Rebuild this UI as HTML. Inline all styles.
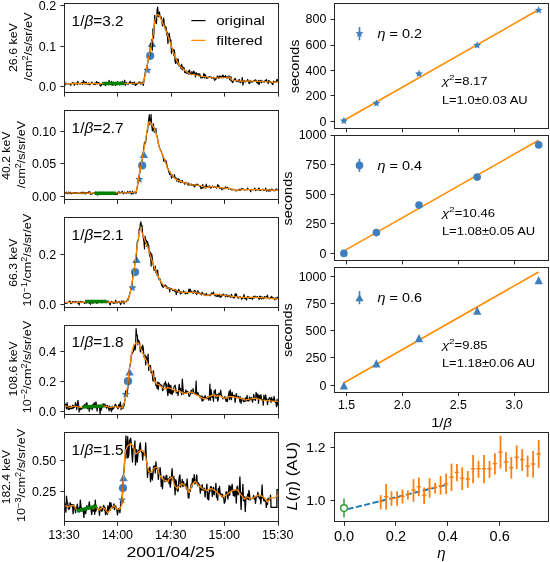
<!DOCTYPE html>
<html><head><meta charset="utf-8"><title>figure</title>
<style>html,body{margin:0;padding:0;background:#fff;width:550px;height:562px;overflow:hidden}
svg text{font-family:"Liberation Sans", sans-serif}</style></head>
<body>
<svg width="550" height="562" viewBox="0 0 550 562" style="display:block" font-family='&quot;Liberation Sans&quot;, sans-serif' fill="#000">
<rect width="550" height="562" fill="#fff"/>
<defs>
<clipPath id="cl0"><rect x="64.4" y="3.3" width="213.8" height="89.3"/></clipPath>
<clipPath id="cl1"><rect x="64.4" y="110.6" width="213.8" height="89.3"/></clipPath>
<clipPath id="cl2"><rect x="64.4" y="217.9" width="213.8" height="89.3"/></clipPath>
<clipPath id="cl3"><rect x="64.4" y="325.2" width="213.8" height="89.3"/></clipPath>
<clipPath id="cl4"><rect x="64.4" y="432.5" width="213.8" height="89.3"/></clipPath>
</defs>
<g clip-path="url(#cl0)">
<polygon points="152,39.9 147.8,47.1 156.2,47.1" fill="#3f7fbd"/>
<circle cx="150.2" cy="55.8" r="4.1" fill="#3f7fbd"/>
<polygon points="147.5,66 148.66,68.7 151.59,68.97 149.38,70.91 150.03,73.78 147.5,72.28 144.97,73.78 145.62,70.91 143.41,68.97 146.34,68.7" fill="#3f7fbd"/>
<polyline points="64.7,84.83 65.3,84.94 65.9,82.89 66.5,83.77 67.1,83.89 67.7,83.82 68.3,83.71 68.9,83.63 69.5,83.93 70.1,83.75 70.7,85.29 71.3,83.72 71.9,83.46 72.5,82.62 73.1,82.88 73.7,83.32 74.3,85.3 74.9,82.99 75.5,83.84 76.1,83.33 76.7,83.1 77.3,84.74 77.9,81.35 78.5,83.43 79.1,83.67 79.7,84.02 80.3,84.16 80.9,83.12 81.5,83.39 82.1,82.61 82.7,84.47 83.3,80.55 83.9,82.66 84.5,81.92 85.1,84.12 85.7,82.58 86.3,82.08 86.9,84.01 87.5,83.62 88.1,84.48 88.7,82.92 89.3,83.7 89.9,84.95 90.5,83.61 91.1,83.48 91.7,82.12 92.3,83.34 92.9,83.72 93.5,83.9 94.1,84.51 94.7,83.06 95.3,84.45 95.9,83.45 96.5,81.65 97.1,84.08 97.7,82.3 98.3,82.73 98.9,82.68 99.5,83.57 100.1,85.5 100.7,86.03 101.3,84.52 101.9,84.94 102.5,82.78 103.1,83.82 103.7,84.03 104.3,83.94 104.9,83.18 105.5,85.64 106.1,84.1 106.7,82.29 107.3,84.31 107.9,83.34 108.5,84.63 109.1,80.39 109.7,84.21 110.3,84.05 110.9,83.08 111.5,81.33 112.1,85.2 112.7,85.05 113.3,82 113.9,84.81 114.5,84.1 115.1,84.32 115.7,85.36 116.3,84.1 116.9,83.63 117.5,81.68 118.1,82.84 118.7,82.63 119.3,84.93 119.9,84.13 120.5,82.2 121.1,82.92 121.7,83.38 122.3,81.44 122.9,84.25 123.5,83.66 124.1,83.03 124.7,80.22 125.3,85.18 125.9,83.63 126.5,82.68 127.1,83.98 127.7,83.72 128.3,84.19 128.9,82.96 129.5,83.41 130.1,81.19 130.7,83.44 131.3,82.78 131.9,83.74 132.5,82.41 133.1,84.67 133.7,82.88 134.3,81.97 134.9,83.93 135.5,85.47 136.1,83.28 136.7,84.64 137.3,83.31 137.9,83.51 138.5,83.42 139.1,81.82 139.7,82.68 140.3,82.34 140.9,84.09 141.5,83.1 142.1,82.77 142.7,81.99 143.3,85.3 143.9,81.37 144.5,77.28 145.1,73.54 145.7,68.96 146.3,68.79 146.9,66.97 147.5,63.99 148.1,60.94 148.7,58.97 149.3,54.72 149.9,55.73 150.5,43.4 151.1,47.68 151.7,39.63 152.3,50.35 152.9,28.92 153.5,38.12 154.1,29.57 154.7,15.42 155.3,17.35 155.9,22.98 156.5,23.53 157.1,10 157.7,7.2 158.3,16.57 158.9,14.45 159.5,12 160.1,17.14 160.7,18.27 161.3,17 161.9,21.9 162.5,26.02 163.1,22 163.7,18.14 164.3,24.97 164.9,25.83 165.5,30.28 166.1,27 166.7,34.9 167.3,32.08 167.9,43.47 168.5,36.67 169.1,33 169.7,36.89 170.3,41.44 170.9,40 171.5,53.58 172.1,48.3 172.7,51.3 173.3,49.28 173.9,55.56 174.5,50 175.1,61.67 175.7,63.44 176.3,58.69 176.9,59.73 177.5,63.93 178.1,58.97 178.7,64.4 179.3,66.31 179.9,65.17 180.5,66.26 181.1,68.74 181.7,64.23 182.3,69.82 182.9,66.96 183.5,69.19 184.1,67.91 184.7,72.53 185.3,72.83 185.9,70.61 186.5,73 187.1,73.38 187.7,72.43 188.3,71.1 188.9,74.5 189.5,69.97 190.1,73.1 190.7,73.81 191.3,74.73 191.9,71.64 192.5,74.21 193.1,74.25 193.7,71.09 194.3,72.18 194.9,73.53 195.5,76.85 196.1,72.58 196.7,74.39 197.3,74.18 197.9,73.82 198.5,73.74 199.1,76.04 199.7,73.92 200.3,75.89 200.9,77.85 201.5,77.42 202.1,78 202.7,77.65 203.3,76.86 203.9,73.28 204.5,77.92 205.1,74.52 205.7,75.5 206.3,78.45 206.9,77.72 207.5,78.05 208.1,77.48 208.7,77.64 209.3,76.63 209.9,76.89 210.5,77.28 211.1,77.2 211.7,78.23 212.3,77.76 212.9,77.43 213.5,77.23 214.1,78.71 214.7,80.38 215.3,79.11 215.9,79.28 216.5,77.3 217.1,77.03 217.7,75.92 218.3,77.75 218.9,78.4 219.5,76.01 220.1,76.4 220.7,76.32 221.3,77.6 221.9,77.41 222.5,75.22 223.1,75.09 223.7,77.72 224.3,76.65 224.9,77.29 225.5,75.63 226.1,77.5 226.7,77.96 227.3,76.56 227.9,78.12 228.5,76.56 229.1,75.9 229.7,79.57 230.3,80.09 230.9,76.64 231.5,81.05 232.1,81.6 232.7,82.59 233.3,81.19 233.9,79.75 234.5,79.52 235.1,78.29 235.7,79.93 236.3,81.39 236.9,80.2 237.5,80.42 238.1,81.78 238.7,80.56 239.3,79.42 239.9,82.17 240.5,82.65 241.1,81.37 241.7,81.13 242.3,77.47 242.9,85.03 243.5,81.79 244.1,80.42 244.7,81 245.3,81.8 245.9,81.66 246.5,81.25 247.1,80.67 247.7,79.5 248.3,81.57 248.9,82.97 249.5,83.66 250.1,80.37 250.7,81.7 251.3,82.17 251.9,81.37 252.5,81.97 253.1,81.39 253.7,81.42 254.3,80.3 254.9,81.05 255.5,79.9 256.1,80.22 256.7,82.73 257.3,82.07 257.9,83.51 258.5,80.39 259.1,84.73 259.7,80.74 260.3,81.81 260.9,80.2 261.5,82.76 262.1,81.16 262.7,81.24 263.3,81.53 263.9,81.98 264.5,82.04 265.1,80.59 265.7,80.7 266.3,79.51 266.9,81.27 267.5,82.21 268.1,83.53 268.7,80.37 269.3,80.97 269.9,82.1 270.5,82.57 271.1,82.09 271.7,82.94 272.3,84.01 272.9,84.68 273.5,81.12 274.1,82.07 274.7,81.79 275.3,81.87 275.9,82.27 276.5,80.56 277.1,79.25 277.7,81.78" fill="none" stroke="#000" stroke-width="1.2" stroke-linejoin="round"/>
<polyline points="64.5,83.8 80,83.4 100,83.7 125,83.5 140,83 143.4,83.2 146,70.5 148.4,59.3 150.8,48.1 153.2,33.7 154.8,20.8 156.4,15.2 158,14.4 159.6,16 162,21.6 165.2,28.8 168,36 170.4,43.3 173.6,52.9 176.9,60.9 180.1,66.5 184.9,70.5 190,74 200,76 210,77.5 220,78 226,77.5 229,77 232,80 240,81 250,81 260,81.5 270,82 278.2,82" fill="none" stroke="#ff8c00" stroke-width="1.25" stroke-linejoin="round"/>
<line x1="102.7" y1="83.6" x2="124.5" y2="83.6" stroke="#008000" stroke-width="3.5"/>
</g>
<rect x="64.5" y="3.5" width="214" height="89" fill="none" stroke="#262626" stroke-width="1"/>
<line x1="60.4" y1="5.5" x2="64.4" y2="5.5" stroke="#262626" stroke-width="1"/>
<line x1="60.4" y1="46.5" x2="64.4" y2="46.5" stroke="#262626" stroke-width="1"/>
<line x1="60.4" y1="86.5" x2="64.4" y2="86.5" stroke="#262626" stroke-width="1"/>
<line x1="64.5" y1="92.6" x2="64.5" y2="96.6" stroke="#262626" stroke-width="1"/>
<line x1="117.5" y1="92.6" x2="117.5" y2="96.6" stroke="#262626" stroke-width="1"/>
<line x1="171.5" y1="92.6" x2="171.5" y2="96.6" stroke="#262626" stroke-width="1"/>
<line x1="224.5" y1="92.6" x2="224.5" y2="96.6" stroke="#262626" stroke-width="1"/>
<line x1="278.5" y1="92.6" x2="278.5" y2="96.6" stroke="#262626" stroke-width="1"/>
<g clip-path="url(#cl1)">
<polygon points="143.9,150.7 139.7,157.9 148.1,157.9" fill="#3f7fbd"/>
<circle cx="142.2" cy="165.5" r="4.1" fill="#3f7fbd"/>
<polygon points="139.3,175.1 140.46,177.8 143.39,178.07 141.18,180.01 141.83,182.88 139.3,181.38 136.77,182.88 137.42,180.01 135.21,178.07 138.14,177.8" fill="#3f7fbd"/>
<polyline points="64.7,193.2 65.3,192.64 65.9,193.4 66.5,192.01 67.1,193.83 67.7,193.21 68.3,193.39 68.9,192 69.5,193.64 70.1,192.79 70.7,192.21 71.3,194.01 71.9,193.3 72.5,192.84 73.1,193.22 73.7,193.38 74.3,192.37 74.9,193.02 75.5,192.51 76.1,193.43 76.7,192.66 77.3,192.81 77.9,193.64 78.5,192.95 79.1,193.11 79.7,193.56 80.3,193.36 80.9,192.35 81.5,192.61 82.1,193.85 82.7,192.43 83.3,192.05 83.9,193.7 84.5,192.62 85.1,192.84 85.7,194.1 86.3,192.41 86.9,193.14 87.5,192.66 88.1,193.22 88.7,191.7 89.3,191.68 89.9,191.88 90.5,194.31 91.1,193.47 91.7,194.29 92.3,193.69 92.9,193.28 93.5,193.26 94.1,192.46 94.7,193.13 95.3,193.15 95.9,192.15 96.5,194.61 97.1,192.9 97.7,195.2 98.3,193.69 98.9,192.48 99.5,194.3 100.1,192.72 100.7,192.17 101.3,193 101.9,193.46 102.5,192.75 103.1,192.61 103.7,192.39 104.3,193.08 104.9,193.38 105.5,193.22 106.1,193.31 106.7,192.68 107.3,193.21 107.9,193.33 108.5,192.24 109.1,193.93 109.7,193.04 110.3,192.38 110.9,194.34 111.5,192.51 112.1,192.91 112.7,193.27 113.3,192.48 113.9,193.67 114.5,192.7 115.1,192.9 115.7,194.05 116.3,194.4 116.9,192.91 117.5,194.24 118.1,192.23 118.7,191.77 119.3,192.04 119.9,193.06 120.5,192.75 121.1,192.32 121.7,192.56 122.3,191.25 122.9,192.93 123.5,193.87 124.1,192.95 124.7,192.16 125.3,192.67 125.9,192.57 126.5,193.31 127.1,193.04 127.7,191.35 128.3,192.64 128.9,193.19 129.5,191.97 130.1,191.35 130.7,192.9 131.3,194.27 131.9,192.76 132.5,191.16 133.1,193.81 133.7,192.64 134.3,192.63 134.9,191.87 135.5,192.99 136.1,193.24 136.7,189.67 137.3,186.79 137.9,183.82 138.5,181.01 139.1,174.59 139.7,173.98 140.3,168.87 140.9,163.77 141.5,162.54 142.1,160.01 142.7,156.31 143.3,151.6 143.9,147.23 144.5,142.17 145.1,144.01 145.7,142.52 146.3,137 146.9,130.8 147.5,131.84 148.1,126.01 148.7,119.15 149.3,114.58 149.9,125.01 150.5,120.98 151.1,114.3 151.7,124.35 152.3,131 152.9,129.35 153.5,123.78 154.1,132.04 154.7,132.32 155.3,132.29 155.9,128.23 156.5,135.59 157.1,135.69 157.7,138.66 158.3,144.11 158.9,145.31 159.5,147.93 160.1,148.98 160.7,150.38 161.3,151.22 161.9,153.81 162.5,154.65 163.1,156.59 163.7,161.37 164.3,161 164.9,159.56 165.5,161.65 166.1,160.89 166.7,163.51 167.3,167.2 167.9,168.35 168.5,170.49 169.1,172.8 169.7,174.51 170.3,172.04 170.9,174.44 171.5,178.09 172.1,174.82 172.7,176.25 173.3,177.42 173.9,177.37 174.5,174.45 175.1,178.84 175.7,177.61 176.3,178.31 176.9,181.44 177.5,179.46 178.1,178.45 178.7,182.14 179.3,179.41 179.9,180.84 180.5,182.56 181.1,181.17 181.7,182.15 182.3,180.24 182.9,182.52 183.5,182.62 184.1,182.84 184.7,184.38 185.3,182.22 185.9,182.67 186.5,183.27 187.1,183.37 187.7,184.92 188.3,182.9 188.9,185.31 189.5,184.02 190.1,185 190.7,184.18 191.3,184.06 191.9,185.47 192.5,185.08 193.1,184.47 193.7,184.69 194.3,187 194.9,184.84 195.5,186.05 196.1,184.81 196.7,184.41 197.3,183.98 197.9,184.97 198.5,185.14 199.1,185.76 199.7,186.15 200.3,185.58 200.9,188.59 201.5,187.66 202.1,188.5 202.7,184.42 203.3,186.69 203.9,188.11 204.5,187.03 205.1,186.02 205.7,188.05 206.3,184 206.9,186.85 207.5,187.15 208.1,186.72 208.7,187.21 209.3,185.66 209.9,187.52 210.5,187.96 211.1,188.08 211.7,186.95 212.3,185.92 212.9,186.43 213.5,187.34 214.1,186.85 214.7,186.87 215.3,186.89 215.9,187.43 216.5,188.06 217.1,187.2 217.7,184.46 218.3,187.24 218.9,185.67 219.5,188.44 220.1,188.2 220.7,188.08 221.3,187.65 221.9,189.88 222.5,188.76 223.1,188.72 223.7,188.75 224.3,188.21 224.9,188.74 225.5,186.67 226.1,188.02 226.7,187.92 227.3,187.29 227.9,188.03 228.5,189.16 229.1,188.17 229.7,188.73 230.3,188.64 230.9,189.33 231.5,189.28 232.1,190.19 232.7,189.23 233.3,189.13 233.9,189.77 234.5,190.07 235.1,189.93 235.7,190.82 236.3,190 236.9,190.87 237.5,190.05 238.1,190.28 238.7,189.97 239.3,189.19 239.9,190.64 240.5,190.31 241.1,188.75 241.7,189.34 242.3,188.7 242.9,188.73 243.5,189.14 244.1,190 244.7,189.49 245.3,189.99 245.9,189.65 246.5,189.22 247.1,190.03 247.7,187.95 248.3,189.47 248.9,189.51 249.5,189.59 250.1,190.05 250.7,191.8 251.3,189.27 251.9,189.19 252.5,189.66 253.1,189.9 253.7,189.67 254.3,189.05 254.9,188.01 255.5,190.64 256.1,189.54 256.7,190.08 257.3,189.93 257.9,190.01 258.5,188.12 259.1,188.21 259.7,190.45 260.3,190.58 260.9,189.69 261.5,189.83 262.1,189.5 262.7,189.1 263.3,190.01 263.9,190.6 264.5,190.04 265.1,189.58 265.7,187.99 266.3,191.27 266.9,189.72 267.5,190.35 268.1,191.1 268.7,190.49 269.3,189.34 269.9,191.46 270.5,190.03 271.1,190.28 271.7,189.05 272.3,189.51 272.9,190.42 273.5,189.97 274.1,190.93 274.7,190.24 275.3,190.68 275.9,189.1 276.5,189.04 277.1,189.36 277.7,190.8" fill="none" stroke="#000" stroke-width="1.1" stroke-linejoin="round"/>
<polyline points="64.5,193 90,193.2 116,193 130,192.5 135.1,192.2 136.4,191.7 138.8,177.3 141.2,164.5 143.6,151.7 146,137.2 147.6,127.6 149.2,121.5 150.8,122.8 154,127.6 156.4,134 159.6,148.5 163.8,157.4 167.2,167.5 172.3,176 177.3,180.2 184.1,182.7 190,184.5 200,185.5 207,187.8 210,186.4 220,187.6 230,188.7 236,190.4 245,189.5 260,189.6 278.2,190.4" fill="none" stroke="#ff8c00" stroke-width="1.25" stroke-linejoin="round"/>
<line x1="94.6" y1="193.3" x2="116" y2="193.3" stroke="#008000" stroke-width="3.5"/>
</g>
<rect x="64.5" y="110.5" width="214" height="89" fill="none" stroke="#262626" stroke-width="1"/>
<line x1="60.4" y1="131.5" x2="64.4" y2="131.5" stroke="#262626" stroke-width="1"/>
<line x1="60.4" y1="163.5" x2="64.4" y2="163.5" stroke="#262626" stroke-width="1"/>
<line x1="60.4" y1="196.5" x2="64.4" y2="196.5" stroke="#262626" stroke-width="1"/>
<line x1="64.5" y1="199.9" x2="64.5" y2="203.9" stroke="#262626" stroke-width="1"/>
<line x1="117.5" y1="199.9" x2="117.5" y2="203.9" stroke="#262626" stroke-width="1"/>
<line x1="171.5" y1="199.9" x2="171.5" y2="203.9" stroke="#262626" stroke-width="1"/>
<line x1="224.5" y1="199.9" x2="224.5" y2="203.9" stroke="#262626" stroke-width="1"/>
<line x1="278.5" y1="199.9" x2="278.5" y2="203.9" stroke="#262626" stroke-width="1"/>
<g clip-path="url(#cl2)">
<polygon points="136.5,255.7 132.3,262.9 140.7,262.9" fill="#3f7fbd"/>
<circle cx="135.1" cy="272.1" r="4.1" fill="#3f7fbd"/>
<polygon points="132.5,283.5 133.66,286.2 136.59,286.47 134.38,288.41 135.03,291.28 132.5,289.78 129.97,291.28 130.62,288.41 128.41,286.47 131.34,286.2" fill="#3f7fbd"/>
<polyline points="64.7,302.56 65.3,303.3 65.9,303.5 66.5,302.29 67.1,303.18 67.7,302.42 68.3,302.19 68.9,302.13 69.5,301.34 70.1,301 70.7,303.66 71.3,302.62 71.9,303.1 72.5,301.63 73.1,302.55 73.7,301.65 74.3,302.6 74.9,302.5 75.5,301.45 76.1,302.63 76.7,301.81 77.3,302.65 77.9,303.05 78.5,301.67 79.1,305.05 79.7,302.15 80.3,301.26 80.9,301.75 81.5,302.73 82.1,301.92 82.7,301.83 83.3,302.33 83.9,302.26 84.5,303.45 85.1,302.57 85.7,300.82 86.3,303.19 86.9,301.99 87.5,301.41 88.1,300.39 88.7,302.92 89.3,303.08 89.9,301.08 90.5,304.3 91.1,301.98 91.7,301.6 92.3,303.15 92.9,301.95 93.5,302.84 94.1,302.67 94.7,301.44 95.3,301.01 95.9,302.67 96.5,302.13 97.1,303.48 97.7,301.8 98.3,302.11 98.9,301.74 99.5,301.89 100.1,301.71 100.7,301.96 101.3,302.61 101.9,302.75 102.5,302.53 103.1,302.21 103.7,301.39 104.3,300.31 104.9,302.15 105.5,300.84 106.1,301.41 106.7,302.79 107.3,302.47 107.9,300.73 108.5,301.85 109.1,302.89 109.7,304.32 110.3,304.8 110.9,301.91 111.5,301.46 112.1,301.94 112.7,302.8 113.3,302.36 113.9,303.37 114.5,302.4 115.1,303.12 115.7,300.02 116.3,301.7 116.9,302.92 117.5,302.84 118.1,301.66 118.7,302.48 119.3,301.43 119.9,302.26 120.5,304.61 121.1,303.43 121.7,300.85 122.3,301.91 122.9,302.8 123.5,301 124.1,303.85 124.7,302.17 125.3,301.62 125.9,301.27 126.5,301.78 127.1,300.58 127.7,298.91 128.3,299.89 128.9,297 129.5,294.99 130.1,292.63 130.7,290.06 131.3,285.91 131.9,284.67 132.5,280.22 133.1,273.06 133.7,271.16 134.3,271.05 134.9,261.59 135.5,262.21 136.1,257.58 136.7,250.86 137.3,241.37 137.9,240.4 138.5,240.08 139.1,229.42 139.7,229.69 140.3,224 140.9,221.8 141.5,226 142.1,225.63 142.7,235 143.3,237.34 143.9,241.88 144.5,249.01 145.1,236 145.7,243.36 146.3,240 146.9,246.54 147.5,241.25 148.1,244.65 148.7,245 149.3,253.52 149.9,256.59 150.5,252 151.1,266.1 151.7,253.86 152.3,258 152.9,263.57 153.5,265.81 154.1,270.41 154.7,269.69 155.3,266 155.9,272.76 156.5,270.76 157.1,275.36 157.7,270 158.3,277.23 158.9,279 159.5,280.01 160.1,278.91 160.7,281.74 161.3,283.94 161.9,286 162.5,284.65 163.1,287.64 163.7,286.52 164.3,286.28 164.9,285 165.5,285.51 166.1,285.72 166.7,288.11 167.3,286.9 167.9,288.46 168.5,288.57 169.1,287.57 169.7,291.91 170.3,288.5 170.9,289.33 171.5,288.54 172.1,289.34 172.7,290.55 173.3,290.17 173.9,289.74 174.5,291.3 175.1,289.21 175.7,291.11 176.3,294.79 176.9,290.06 177.5,292.01 178.1,292.14 178.7,289.37 179.3,290.64 179.9,291.85 180.5,294 181.1,291.62 181.7,293.19 182.3,292.51 182.9,292.73 183.5,290.76 184.1,291.99 184.7,292.58 185.3,293.91 185.9,291.92 186.5,293.23 187.1,292.61 187.7,293.64 188.3,291.91 188.9,289.14 189.5,291.96 190.1,289.05 190.7,291.22 191.3,291.19 191.9,292.48 192.5,292.17 193.1,293.39 193.7,292.09 194.3,290.5 194.9,290.27 195.5,293.29 196.1,291.77 196.7,294.6 197.3,293.02 197.9,290.68 198.5,293.14 199.1,292.8 199.7,292.76 200.3,294.18 200.9,293.59 201.5,294.95 202.1,292.07 202.7,293.53 203.3,294.12 203.9,294.64 204.5,293.99 205.1,295.66 205.7,294.4 206.3,293.44 206.9,295.65 207.5,295.08 208.1,295.38 208.7,295.02 209.3,295.14 209.9,295.76 210.5,295.32 211.1,293.58 211.7,292.93 212.3,293.36 212.9,294.44 213.5,291.94 214.1,294.68 214.7,294.99 215.3,295.94 215.9,295.81 216.5,296 217.1,296.63 217.7,294.41 218.3,296.2 218.9,296.11 219.5,294.11 220.1,297.44 220.7,296 221.3,296.78 221.9,294.86 222.5,295.52 223.1,293.94 223.7,295.29 224.3,294.82 224.9,295.55 225.5,296.81 226.1,294.73 226.7,294.91 227.3,296.84 227.9,295.23 228.5,296.6 229.1,295.37 229.7,296.58 230.3,296.8 230.9,297.51 231.5,294.38 232.1,295.69 232.7,296.62 233.3,298.01 233.9,297.24 234.5,297.86 235.1,293.82 235.7,295.9 236.3,293.92 236.9,296.01 237.5,296.92 238.1,298.37 238.7,297.81 239.3,296.83 239.9,297.54 240.5,296.78 241.1,297.73 241.7,299.37 242.3,297.5 242.9,298.37 243.5,296.12 244.1,294.53 244.7,298.78 245.3,297.69 245.9,298.93 246.5,299.91 247.1,297.86 247.7,296.27 248.3,297.84 248.9,296.74 249.5,298.53 250.1,298.33 250.7,297.61 251.3,298.35 251.9,298.05 252.5,299.37 253.1,296.72 253.7,296.5 254.3,298.2 254.9,295.94 255.5,297.48 256.1,296.93 256.7,297.44 257.3,296.61 257.9,297.2 258.5,297.98 259.1,299.47 259.7,296.15 260.3,298.52 260.9,296.26 261.5,299.01 262.1,298.05 262.7,296.96 263.3,298.87 263.9,298.32 264.5,296.53 265.1,298.06 265.7,297.24 266.3,296.62 266.9,296.52 267.5,295.13 268.1,298.58 268.7,298.12 269.3,298.42 269.9,298.93 270.5,297.18 271.1,298.24 271.7,296.38 272.3,298.72 272.9,297.86 273.5,297.77 274.1,298.4 274.7,299.99 275.3,297.97 275.9,298.29 276.5,299.12 277.1,297.12 277.7,298.35" fill="none" stroke="#000" stroke-width="1.15" stroke-linejoin="round"/>
<polyline points="64.5,302.5 85,302.1 107,302 125,302 127.6,300.6 130,293.5 131.6,285.5 133.2,275.9 134.8,264.7 136.4,251.9 138,240.6 139.6,230.6 140.8,229 142,232.6 144.4,239 147.6,247 150.8,256.7 153.7,265.7 157.1,274.2 160.5,280.9 163.9,286 168.9,288.5 175.7,290.2 180,292.2 185,292.5 195,292.4 207,295.5 215,294.2 225,295.5 240,297.3 250,297.3 265,297.8 278.2,299.1" fill="none" stroke="#ff8c00" stroke-width="1.25" stroke-linejoin="round"/>
<line x1="85.5" y1="301.4" x2="106.5" y2="301.4" stroke="#008000" stroke-width="3.5"/>
</g>
<rect x="64.5" y="217.5" width="214" height="90" fill="none" stroke="#262626" stroke-width="1"/>
<line x1="60.4" y1="254.5" x2="64.4" y2="254.5" stroke="#262626" stroke-width="1"/>
<line x1="60.4" y1="304.5" x2="64.4" y2="304.5" stroke="#262626" stroke-width="1"/>
<line x1="64.5" y1="307.2" x2="64.5" y2="311.2" stroke="#262626" stroke-width="1"/>
<line x1="117.5" y1="307.2" x2="117.5" y2="311.2" stroke="#262626" stroke-width="1"/>
<line x1="171.5" y1="307.2" x2="171.5" y2="311.2" stroke="#262626" stroke-width="1"/>
<line x1="224.5" y1="307.2" x2="224.5" y2="311.2" stroke="#262626" stroke-width="1"/>
<line x1="278.5" y1="307.2" x2="278.5" y2="311.2" stroke="#262626" stroke-width="1"/>
<g clip-path="url(#cl3)">
<polygon points="129.6,368.4 125.4,375.6 133.8,375.6" fill="#3f7fbd"/>
<circle cx="128" cy="381.2" r="4.1" fill="#3f7fbd"/>
<polygon points="125.8,390 126.96,392.7 129.89,392.97 127.68,394.91 128.33,397.78 125.8,396.28 123.27,397.78 123.92,394.91 121.71,392.97 124.64,392.7" fill="#3f7fbd"/>
<polyline points="64.7,405.63 65.3,404.08 65.9,404.96 66.5,408.8 67.1,402.59 67.7,407.21 68.3,409.6 68.9,406.29 69.5,409.47 70.1,406.11 70.7,408.57 71.3,407.82 71.9,408.8 72.5,405.04 73.1,408.29 73.7,405.57 74.3,407.5 74.9,406.75 75.5,402.49 76.1,404.69 76.7,409.53 77.3,405.63 77.9,400.38 78.5,403.51 79.1,412.04 79.7,406.98 80.3,409.47 80.9,409.7 81.5,408.28 82.1,408.63 82.7,406.74 83.3,406.36 83.9,406.46 84.5,404.48 85.1,405.32 85.7,406.99 86.3,402.98 86.9,402.68 87.5,408.75 88.1,406.79 88.7,407.09 89.3,411.39 89.9,407.75 90.5,408.18 91.1,407.44 91.7,408.37 92.3,409.79 92.9,404.25 93.5,406.36 94.1,402.92 94.7,403.75 95.3,407.7 95.9,401.74 96.5,404.76 97.1,411.24 97.7,406.27 98.3,407.3 98.9,405.31 99.5,406.56 100.1,414.32 100.7,406.67 101.3,410.16 101.9,407.36 102.5,406.8 103.1,403.57 103.7,405.77 104.3,406.99 104.9,403.86 105.5,406.79 106.1,405.72 106.7,408.27 107.3,405.27 107.9,407.21 108.5,407.11 109.1,410.83 109.7,406.07 110.3,408.34 110.9,409.81 111.5,411.64 112.1,405.99 112.7,409.52 113.3,408.19 113.9,408.08 114.5,406.6 115.1,404.36 115.7,404.37 116.3,406.08 116.9,406.92 117.5,408 118.1,408.79 118.7,404.72 119.3,407.48 119.9,403.98 120.5,402.19 121.1,409.59 121.7,407.76 122.3,406.21 122.9,408.67 123.5,403.65 124.1,405.9 124.7,400.85 125.3,398.9 125.9,390.8 126.5,391.59 127.1,392.67 127.7,389.51 128.3,381.02 128.9,374.36 129.5,367.55 130.1,365.55 130.7,362.29 131.3,355.22 131.9,354.13 132.5,352.96 133.1,352.04 133.7,350.44 134.3,344.67 134.9,350 135.5,348.62 136.1,328.5 136.7,335.23 137.3,335.05 137.9,344.6 138.5,340 139.1,341.87 139.7,343.07 140.3,352 140.9,349.45 141.5,346.94 142.1,350.17 142.7,345 143.3,348.03 143.9,356.44 144.5,357.71 145.1,355.12 145.7,365 146.3,356.64 146.9,362.28 147.5,360.87 148.1,354 148.7,370.5 149.3,365.36 149.9,366.9 150.5,365.54 151.1,372.68 151.7,370.81 152.3,374.17 152.9,381 153.5,370.93 154.1,380.66 154.7,381.8 155.3,377.8 155.9,385.72 156.5,384.46 157.1,388.3 157.7,382.17 158.3,389.71 158.9,382.59 159.5,383.77 160.1,384.18 160.7,385.35 161.3,385.28 161.9,385.22 162.5,390.61 163.1,390.07 163.7,386.67 164.3,383.58 164.9,383.79 165.5,381.51 166.1,387.59 166.7,384.16 167.3,391.68 167.9,395.55 168.5,382.89 169.1,392.61 169.7,384.78 170.3,393.76 170.9,385.65 171.5,393.02 172.1,394.7 172.7,390.65 173.3,392.48 173.9,386.83 174.5,386.51 175.1,385.09 175.7,388.02 176.3,392.88 176.9,392.48 177.5,391.83 178.1,395.61 178.7,388.27 179.3,384.37 179.9,391.05 180.5,388.6 181.1,391.83 181.7,394.79 182.3,379 182.9,386.85 183.5,394.07 184.1,393.61 184.7,392.83 185.3,392.21 185.9,389.91 186.5,393.19 187.1,391.27 187.7,391.52 188.3,392.23 188.9,396.06 189.5,396.31 190.1,394.6 190.7,393.19 191.3,390.2 191.9,393.13 192.5,393.21 193.1,388.7 193.7,392.1 194.3,393.92 194.9,393.09 195.5,394.29 196.1,381 196.7,394.81 197.3,394.9 197.9,392.3 198.5,394.62 199.1,395.16 199.7,396.31 200.3,397.84 200.9,395.6 201.5,396.85 202.1,401.14 202.7,396.45 203.3,400.38 203.9,397.85 204.5,397.62 205.1,395.6 205.7,398.49 206.3,397.31 206.9,398.85 207.5,397.08 208.1,396.89 208.7,400.21 209.3,398.41 209.9,384 210.5,400.12 211.1,389.56 211.7,394.95 212.3,397.34 212.9,395.2 213.5,401.28 214.1,390.91 214.7,392.99 215.3,389.66 215.9,398.21 216.5,395.95 217.1,394.3 217.7,401.1 218.3,399.29 218.9,393.18 219.5,395.24 220.1,395.05 220.7,390.07 221.3,395.06 221.9,395.77 222.5,397.99 223.1,398.8 223.7,397.87 224.3,397.32 224.9,396.56 225.5,399.24 226.1,401.32 226.7,398.97 227.3,401.55 227.9,398.38 228.5,394.73 229.1,391.46 229.7,399.66 230.3,389.93 230.9,396.57 231.5,399.75 232.1,392.12 232.7,395.91 233.3,395.75 233.9,395.37 234.5,395.31 235.1,402.36 235.7,397.57 236.3,393.51 236.9,396.12 237.5,397.73 238.1,397.81 238.7,396.33 239.3,397.27 239.9,401.83 240.5,396.84 241.1,403.54 241.7,399.2 242.3,400.03 242.9,398.35 243.5,401.44 244.1,401.72 244.7,401.05 245.3,397.87 245.9,401.27 246.5,398.36 247.1,395.34 247.7,400.86 248.3,399.62 248.9,401.14 249.5,396.96 250.1,398.63 250.7,399.84 251.3,397.48 251.9,398.75 252.5,402.06 253.1,399.6 253.7,394.45 254.3,397.25 254.9,399.74 255.5,400.41 256.1,392.26 256.7,395.71 257.3,398.12 257.9,393.79 258.5,403.31 259.1,395.59 259.7,395.82 260.3,399.73 260.9,394.62 261.5,398.89 262.1,399.93 262.7,399.53 263.3,405.27 263.9,394.99 264.5,398.31 265.1,399.6 265.7,394.87 266.3,400.33 266.9,399.13 267.5,404.65 268.1,400.07 268.7,399.62 269.3,397.81 269.9,397.58 270.5,400.24 271.1,402.47 271.7,397.42 272.3,400.58 272.9,399.88 273.5,400.95 274.1,396.39 274.7,399.82 275.3,402.46 275.9,402.47 276.5,406.7 277.1,399.22 277.7,405.8" fill="none" stroke="#000" stroke-width="1.2" stroke-linejoin="round"/>
<polyline points="64.5,405.5 70,407.5 75,406 80,407.5 85,406.5 90,407.5 95,406 100,407 105,406 110,407.5 115,406.5 118.4,407.1 122,408 124.6,402.1 126.2,394.1 127.6,386.1 128.6,374.9 130.2,363.7 131.8,352.4 133.4,346 135.8,342.8 138.2,342.8 139.8,345.2 142.2,352.4 145.4,358.9 148.8,365.7 150,368.5 152.2,371.6 154.4,380.4 156.5,384 158.7,384.7 161.6,386.9 164.5,389.1 167.5,387.6 170.4,388.4 173.3,389.1 175.5,392 179.1,390.5 182,392.7 184.9,393.5 187.8,392.7 192.2,392 195.1,394.2 198,395.6 200.9,397.1 204.5,399.3 207.5,397.5 211.1,395.6 214,394.9 216.9,396.4 219.8,395.6 224.2,398.5 227.1,397.1 230,396.4 240,398.2 245,400 255,398.2 262,400 270,400.9 278.2,401.5" fill="none" stroke="#ff8c00" stroke-width="1.25" stroke-linejoin="round"/>
<line x1="82.5" y1="407.1" x2="103.6" y2="406.1" stroke="#008000" stroke-width="3.5"/>
</g>
<rect x="64.5" y="325.5" width="214" height="89" fill="none" stroke="#262626" stroke-width="1"/>
<line x1="60.4" y1="351.5" x2="64.4" y2="351.5" stroke="#262626" stroke-width="1"/>
<line x1="60.4" y1="381.5" x2="64.4" y2="381.5" stroke="#262626" stroke-width="1"/>
<line x1="60.4" y1="411.5" x2="64.4" y2="411.5" stroke="#262626" stroke-width="1"/>
<line x1="64.5" y1="414.5" x2="64.5" y2="418.5" stroke="#262626" stroke-width="1"/>
<line x1="117.5" y1="414.5" x2="117.5" y2="418.5" stroke="#262626" stroke-width="1"/>
<line x1="171.5" y1="414.5" x2="171.5" y2="418.5" stroke="#262626" stroke-width="1"/>
<line x1="224.5" y1="414.5" x2="224.5" y2="418.5" stroke="#262626" stroke-width="1"/>
<line x1="278.5" y1="414.5" x2="278.5" y2="418.5" stroke="#262626" stroke-width="1"/>
<g clip-path="url(#cl4)">
<polygon points="123.6,474 119.4,481.2 127.8,481.2" fill="#3f7fbd"/>
<circle cx="123" cy="488" r="4.1" fill="#3f7fbd"/>
<polygon points="122,495.7 123.16,498.4 126.09,498.67 123.88,500.61 124.53,503.48 122,501.98 119.47,503.48 120.12,500.61 117.91,498.67 120.84,498.4" fill="#3f7fbd"/>
<polyline points="64.7,503.86 65.3,504.15 65.9,512.22 66.5,496.23 67.1,502.39 67.7,503.04 68.3,508.13 68.9,509.38 69.5,508.21 70.1,502.67 70.7,506.69 71.3,504.44 71.9,505.14 72.5,504.66 73.1,513.83 73.7,504.92 74.3,505.99 74.9,508.49 75.5,512.58 76.1,507.7 76.7,508.54 77.3,504.18 77.9,508.68 78.5,511.02 79.1,507.91 79.7,511.78 80.3,500.16 80.9,506.75 81.5,508.38 82.1,510.14 82.7,510.76 83.3,510.24 83.9,517.35 84.5,509.2 85.1,508.94 85.7,513.61 86.3,508.56 86.9,505.76 87.5,508.85 88.1,507.72 88.7,506.69 89.3,501.8 89.9,506.5 90.5,508.22 91.1,509.89 91.7,514.52 92.3,509.24 92.9,507.9 93.5,511.12 94.1,504.99 94.7,514.31 95.3,500.04 95.9,511.02 96.5,507.57 97.1,507.71 97.7,508.92 98.3,509.27 98.9,510.08 99.5,515.28 100.1,506.67 100.7,509.74 101.3,510.44 101.9,511.3 102.5,508.41 103.1,507.52 103.7,505.33 104.3,510.1 104.9,507.26 105.5,514.62 106.1,510.26 106.7,510.41 107.3,514.39 107.9,505.84 108.5,511.18 109.1,510.49 109.7,502.55 110.3,510.06 110.9,502.86 111.5,506.18 112.1,506.8 112.7,507.79 113.3,506.92 113.9,503.83 114.5,509.54 115.1,506.38 115.7,505.94 116.3,507.9 116.9,510.09 117.5,514.97 118.1,510.35 118.7,508.43 119.3,509.61 119.9,512.59 120.5,506.51 121.1,501.7 121.7,504.14 122.3,495.79 122.9,487.31 123.5,473.64 124.1,470.45 124.7,460.83 125.3,455.57 125.9,436 126.5,449.05 127.1,458 127.7,436.61 128.3,457.32 128.9,454.08 129.5,440 130.1,441.88 130.7,438.15 131.3,443.47 131.9,453.82 132.5,462 133.1,448.41 133.7,448.08 134.3,449.8 134.9,441 135.5,464.9 136.1,456.14 136.7,449.65 137.3,462 137.9,454.66 138.5,450.66 139.1,452.3 139.7,445.35 140.3,443 140.9,451.12 141.5,451.99 142.1,452.67 142.7,460 143.3,452.04 143.9,453.52 144.5,454.58 145.1,455.5 145.7,443 146.3,458.73 146.9,463.41 147.5,477.44 148.1,468.58 148.7,472.35 149.3,468.85 149.9,467.21 150.5,481.61 151.1,473.91 151.7,473.22 152.3,480 152.9,474.91 153.5,466.91 154.1,465.96 154.7,466.46 155.3,472.86 155.9,462 156.5,468.43 157.1,468.87 157.7,467.68 158.3,479.31 158.9,474.79 159.5,474.65 160.1,467.55 160.7,473.29 161.3,486.41 161.9,479.78 162.5,488.65 163.1,478.07 163.7,476.16 164.3,479.04 164.9,481.7 165.5,480.24 166.1,475.62 166.7,475.5 167.3,481.62 167.9,480.57 168.5,478.95 169.1,483.6 169.7,476.88 170.3,487.1 170.9,480.8 171.5,476.58 172.1,468.7 172.7,478.34 173.3,480.53 173.9,476.74 174.5,483.8 175.1,494.8 175.7,479.59 176.3,481.48 176.9,488.99 177.5,491.02 178.1,491.2 178.7,482.07 179.3,476.74 179.9,474.98 180.5,487.04 181.1,484.29 181.7,483.75 182.3,479.43 182.9,486.66 183.5,481.7 184.1,485.6 184.7,485.63 185.3,485.36 185.9,483.9 186.5,489.26 187.1,479 187.7,488.12 188.3,497.77 188.9,498 189.5,489.57 190.1,491.67 190.7,487.56 191.3,484.23 191.9,486.99 192.5,478.6 193.1,482.31 193.7,479.46 194.3,474.64 194.9,483.94 195.5,482.05 196.1,481.74 196.7,475 197.3,483.8 197.9,485.78 198.5,482.8 199.1,485.39 199.7,484.85 200.3,493.13 200.9,487.73 201.5,490 202.1,484.53 202.7,489.76 203.3,490.14 203.9,488.11 204.5,488.57 205.1,497 205.7,490.31 206.3,490.23 206.9,484.16 207.5,498.88 208.1,493.23 208.7,499.91 209.3,490.18 209.9,491.79 210.5,486.83 211.1,486.63 211.7,487.85 212.3,496.32 212.9,490.92 213.5,487.48 214.1,494.8 214.7,490.91 215.3,490.34 215.9,483.3 216.5,497.15 217.1,497.34 217.7,500 218.3,488.76 218.9,494.14 219.5,486.45 220.1,492.94 220.7,493.27 221.3,495.76 221.9,496.62 222.5,494.17 223.1,497.6 223.7,497.12 224.3,503.28 224.9,502.27 225.5,498.14 226.1,491.8 226.7,491.98 227.3,494.47 227.9,499 228.5,492.17 229.1,485.34 229.7,495.1 230.3,486.33 230.9,491.4 231.5,490.24 232.1,484.4 232.7,490.06 233.3,495.51 233.9,490.43 234.5,496.2 235.1,490.09 235.7,490.53 236.3,503 236.9,487.56 237.5,486.16 238.1,494.76 238.7,492.59 239.3,492.66 239.9,477 240.5,495.11 241.1,509.4 241.7,492.95 242.3,497.34 242.9,484.4 243.5,500.8 244.1,496.55 244.7,498.85 245.3,511.5 245.9,497.42 246.5,497.09 247.1,498.48 247.7,494.13 248.3,499.69 248.9,490.42 249.5,494.09 250.1,500 250.7,498.83 251.3,498.74 251.9,498.49 252.5,498.2 253.1,497.71 253.7,495.52 254.3,499 254.9,497.21 255.5,503.26 256.1,497.8 256.7,496.71 257.3,496.15 257.9,492.35 258.5,495.82 259.1,497.61 259.7,498.75 260.3,496.84 260.9,503.82 261.5,496.07 262.1,485 262.7,497.91 263.3,497.03 263.9,500.85 264.5,498.36 265.1,501.36 265.7,499.33 266.3,507.4 266.9,501.6 267.5,504.42 268.1,498.19 268.7,499.41 269.3,499 269.9,500.02 270.5,495.11 270.8,499 271,507.4 276.9,507.4 277,489.6 278.6,489.6" fill="none" stroke="#000" stroke-width="1.3" stroke-linejoin="round"/>
<polyline points="64.5,505.6 68,507 71,505.6 74,505.6 76,509 79,510 82,509 86,508 90,507 93,509 96,507 99,510.4 102,507 105,509 108,513 111,508 114,506 117,509 119.8,509 121.6,505.3 122.6,494.1 123.4,478.1 124.1,470 124.8,457.2 125.5,450.8 127.6,446 130.8,443.6 133.2,446 135.6,454 138,452.4 141.2,450 143.6,450.8 146,458.8 148.5,471.7 151,472.5 154,468 157,467 160,476 164,480 168,481.6 169.2,479.1 172.3,477 174.4,485.4 177.5,488.5 181.7,483.3 185.9,486.4 189,492.7 192.2,484.4 195.3,481.2 198.5,485.4 202.6,488.5 206.8,490.6 211,488.5 215.2,490.6 219.4,494.8 223.5,496.9 227.7,493.8 231.9,490.6 237.1,489.6 240.3,493.8 244.4,499 247.6,496.9 250.7,499 254.9,496.9 259.1,494.8 263.3,496.9 267.4,502.1 270.6,497.9 274.8,497.9 278.2,494.8" fill="none" stroke="#ff8c00" stroke-width="1.25" stroke-linejoin="round"/>
<line x1="77" y1="511" x2="97" y2="506" stroke="#008000" stroke-width="3.5"/>
</g>
<rect x="64.5" y="432.5" width="214" height="89" fill="none" stroke="#262626" stroke-width="1"/>
<line x1="60.4" y1="460.5" x2="64.4" y2="460.5" stroke="#262626" stroke-width="1"/>
<line x1="60.4" y1="491.5" x2="64.4" y2="491.5" stroke="#262626" stroke-width="1"/>
<line x1="64.5" y1="521.8" x2="64.5" y2="525.8" stroke="#262626" stroke-width="1"/>
<line x1="117.5" y1="521.8" x2="117.5" y2="525.8" stroke="#262626" stroke-width="1"/>
<line x1="171.5" y1="521.8" x2="171.5" y2="525.8" stroke="#262626" stroke-width="1"/>
<line x1="224.5" y1="521.8" x2="224.5" y2="525.8" stroke="#262626" stroke-width="1"/>
<line x1="278.5" y1="521.8" x2="278.5" y2="525.8" stroke="#262626" stroke-width="1"/>
<line x1="191.3" y1="20.6" x2="205.5" y2="20.6" stroke="#000" stroke-width="1.2"/>
<line x1="191.3" y1="40.4" x2="205.5" y2="40.4" stroke="#ff8c00" stroke-width="1.3"/>
<line x1="343.8" y1="120.5" x2="538.6" y2="9.8" stroke="#ff8c00" stroke-width="1.6"/>
<polygon points="343.9,116.8 345.01,119.37 347.8,119.63 345.69,121.48 346.31,124.22 343.9,122.79 341.49,124.22 342.11,121.48 340,119.63 342.79,119.37" fill="#3f7fbd"/>
<polygon points="376.4,99.2 377.51,101.77 380.3,102.03 378.19,103.88 378.81,106.62 376.4,105.19 373.99,106.62 374.61,103.88 372.5,102.03 375.29,101.77" fill="#3f7fbd"/>
<polygon points="419,69.7 420.11,72.27 422.9,72.53 420.79,74.38 421.41,77.12 419,75.69 416.59,77.12 417.21,74.38 415.1,72.53 417.89,72.27" fill="#3f7fbd"/>
<polygon points="477.2,41.2 478.31,43.77 481.1,44.03 478.99,45.88 479.61,48.62 477.2,47.19 474.79,48.62 475.41,45.88 473.3,44.03 476.09,43.77" fill="#3f7fbd"/>
<polygon points="538.7,6.1 539.81,8.67 542.6,8.93 540.49,10.78 541.11,13.52 538.7,12.09 536.29,13.52 536.91,10.78 534.8,8.93 537.59,8.67" fill="#3f7fbd"/>
<rect x="334.5" y="3.5" width="214" height="125" fill="none" stroke="#262626" stroke-width="1"/>
<line x1="330.6" y1="19.5" x2="334.6" y2="19.5" stroke="#262626" stroke-width="1"/>
<line x1="330.6" y1="45.5" x2="334.6" y2="45.5" stroke="#262626" stroke-width="1"/>
<line x1="330.6" y1="70.5" x2="334.6" y2="70.5" stroke="#262626" stroke-width="1"/>
<line x1="330.6" y1="95.5" x2="334.6" y2="95.5" stroke="#262626" stroke-width="1"/>
<line x1="330.6" y1="121.5" x2="334.6" y2="121.5" stroke="#262626" stroke-width="1"/>
<line x1="346.5" y1="128.3" x2="346.5" y2="132.3" stroke="#262626" stroke-width="1"/>
<line x1="402.5" y1="128.3" x2="402.5" y2="132.3" stroke="#262626" stroke-width="1"/>
<line x1="458.5" y1="128.3" x2="458.5" y2="132.3" stroke="#262626" stroke-width="1"/>
<line x1="514.5" y1="128.3" x2="514.5" y2="132.3" stroke="#262626" stroke-width="1"/>
<line x1="359.5" y1="27" x2="359.5" y2="40.2" stroke="#3f7fbd" stroke-width="1.6"/>
<polygon points="359.5,29.5 360.61,32.07 363.4,32.33 361.29,34.18 361.91,36.92 359.5,35.49 357.09,36.92 357.71,34.18 355.6,32.33 358.39,32.07" fill="#3f7fbd"/>
<line x1="344.1" y1="250.9" x2="538.6" y2="140.3" stroke="#ff8c00" stroke-width="1.6"/>
<circle cx="343.9" cy="253.4" r="3.8" fill="#3f7fbd"/>
<circle cx="376.4" cy="232.6" r="3.8" fill="#3f7fbd"/>
<circle cx="419" cy="205.1" r="3.8" fill="#3f7fbd"/>
<circle cx="477.2" cy="177.1" r="3.8" fill="#3f7fbd"/>
<circle cx="538.7" cy="144.9" r="3.8" fill="#3f7fbd"/>
<rect x="334.5" y="135.5" width="214" height="125" fill="none" stroke="#262626" stroke-width="1"/>
<line x1="330.6" y1="135.5" x2="334.6" y2="135.5" stroke="#262626" stroke-width="1"/>
<line x1="330.6" y1="164.5" x2="334.6" y2="164.5" stroke="#262626" stroke-width="1"/>
<line x1="330.6" y1="194.5" x2="334.6" y2="194.5" stroke="#262626" stroke-width="1"/>
<line x1="330.6" y1="223.5" x2="334.6" y2="223.5" stroke="#262626" stroke-width="1"/>
<line x1="330.6" y1="253.5" x2="334.6" y2="253.5" stroke="#262626" stroke-width="1"/>
<line x1="346.5" y1="260.4" x2="346.5" y2="264.4" stroke="#262626" stroke-width="1"/>
<line x1="402.5" y1="260.4" x2="402.5" y2="264.4" stroke="#262626" stroke-width="1"/>
<line x1="458.5" y1="260.4" x2="458.5" y2="264.4" stroke="#262626" stroke-width="1"/>
<line x1="514.5" y1="260.4" x2="514.5" y2="264.4" stroke="#262626" stroke-width="1"/>
<line x1="359.5" y1="158.8" x2="359.5" y2="172" stroke="#3f7fbd" stroke-width="1.6"/>
<circle cx="359.5" cy="165.4" r="3.8" fill="#3f7fbd"/>
<line x1="344.1" y1="382.8" x2="538.6" y2="272" stroke="#ff8c00" stroke-width="1.6"/>
<polygon points="343.9,381.4 339.8,389.6 348,389.6" fill="#3f7fbd"/>
<polygon points="376.4,359.2 372.3,367.4 380.5,367.4" fill="#3f7fbd"/>
<polygon points="419,334 414.9,342.2 423.1,342.2" fill="#3f7fbd"/>
<polygon points="477.2,306.5 473.1,314.7 481.3,314.7" fill="#3f7fbd"/>
<polygon points="538.7,276 534.6,284.2 542.8,284.2" fill="#3f7fbd"/>
<rect x="334.5" y="267.5" width="214" height="125" fill="none" stroke="#262626" stroke-width="1"/>
<line x1="330.6" y1="276.5" x2="334.6" y2="276.5" stroke="#262626" stroke-width="1"/>
<line x1="330.6" y1="303.5" x2="334.6" y2="303.5" stroke="#262626" stroke-width="1"/>
<line x1="330.6" y1="330.5" x2="334.6" y2="330.5" stroke="#262626" stroke-width="1"/>
<line x1="330.6" y1="357.5" x2="334.6" y2="357.5" stroke="#262626" stroke-width="1"/>
<line x1="330.6" y1="385.5" x2="334.6" y2="385.5" stroke="#262626" stroke-width="1"/>
<line x1="346.5" y1="392" x2="346.5" y2="396" stroke="#262626" stroke-width="1"/>
<line x1="402.5" y1="392" x2="402.5" y2="396" stroke="#262626" stroke-width="1"/>
<line x1="458.5" y1="392" x2="458.5" y2="396" stroke="#262626" stroke-width="1"/>
<line x1="514.5" y1="392" x2="514.5" y2="396" stroke="#262626" stroke-width="1"/>
<line x1="359.5" y1="291" x2="359.5" y2="304.2" stroke="#3f7fbd" stroke-width="1.6"/>
<polygon points="359.5,293.9 355.4,301.3 363.6,301.3" fill="#3f7fbd"/>
<rect x="334.5" y="432.5" width="214" height="89" fill="none" stroke="#262626" stroke-width="1"/>
<line x1="347.5" y1="509.2" x2="447.8" y2="484.5" stroke="#1f77b4" stroke-width="1.9" stroke-dasharray="6 2.6"/>
<line x1="380.7" y1="495.1" x2="380.7" y2="509.5" stroke="#ff7f0e" stroke-width="1.8"/>
<line x1="378.5" y1="501.4" x2="382.9" y2="501.4" stroke="#ff7f0e" stroke-width="1.4"/>
<line x1="386.1" y1="484.1" x2="386.1" y2="509.5" stroke="#ff7f0e" stroke-width="1.8"/>
<line x1="383.9" y1="496.8" x2="388.3" y2="496.8" stroke="#ff7f0e" stroke-width="1.4"/>
<line x1="391.5" y1="491.3" x2="391.5" y2="505.8" stroke="#ff7f0e" stroke-width="1.8"/>
<line x1="389.3" y1="498.5" x2="393.7" y2="498.5" stroke="#ff7f0e" stroke-width="1.4"/>
<line x1="397.1" y1="491.3" x2="397.1" y2="505.8" stroke="#ff7f0e" stroke-width="1.8"/>
<line x1="394.9" y1="497.7" x2="399.3" y2="497.7" stroke="#ff7f0e" stroke-width="1.4"/>
<line x1="402.5" y1="489.6" x2="402.5" y2="503.6" stroke="#ff7f0e" stroke-width="1.8"/>
<line x1="400.3" y1="496.3" x2="404.7" y2="496.3" stroke="#ff7f0e" stroke-width="1.4"/>
<line x1="407.9" y1="490.4" x2="407.9" y2="499.4" stroke="#ff7f0e" stroke-width="1.8"/>
<line x1="405.7" y1="494.3" x2="410.1" y2="494.3" stroke="#ff7f0e" stroke-width="1.4"/>
<line x1="413.5" y1="479.1" x2="413.5" y2="501.9" stroke="#ff7f0e" stroke-width="1.8"/>
<line x1="411.3" y1="490.1" x2="415.7" y2="490.1" stroke="#ff7f0e" stroke-width="1.4"/>
<line x1="418.9" y1="477.4" x2="418.9" y2="496.3" stroke="#ff7f0e" stroke-width="1.8"/>
<line x1="416.7" y1="486.7" x2="421.1" y2="486.7" stroke="#ff7f0e" stroke-width="1.4"/>
<line x1="424.1" y1="487.5" x2="424.1" y2="504.1" stroke="#ff7f0e" stroke-width="1.8"/>
<line x1="421.9" y1="495.1" x2="426.3" y2="495.1" stroke="#ff7f0e" stroke-width="1.4"/>
<line x1="429.6" y1="478.2" x2="429.6" y2="497.7" stroke="#ff7f0e" stroke-width="1.8"/>
<line x1="427.4" y1="488.4" x2="431.8" y2="488.4" stroke="#ff7f0e" stroke-width="1.4"/>
<line x1="435.1" y1="482.8" x2="435.1" y2="493.5" stroke="#ff7f0e" stroke-width="1.8"/>
<line x1="432.9" y1="487.5" x2="437.3" y2="487.5" stroke="#ff7f0e" stroke-width="1.4"/>
<line x1="440.6" y1="476" x2="440.6" y2="494.6" stroke="#ff7f0e" stroke-width="1.8"/>
<line x1="438.4" y1="485.8" x2="442.8" y2="485.8" stroke="#ff7f0e" stroke-width="1.4"/>
<line x1="446.1" y1="473.7" x2="446.1" y2="494" stroke="#ff7f0e" stroke-width="1.8"/>
<line x1="443.9" y1="483.8" x2="448.3" y2="483.8" stroke="#ff7f0e" stroke-width="1.4"/>
<line x1="451.5" y1="463.6" x2="451.5" y2="490.9" stroke="#ff7f0e" stroke-width="1.8"/>
<line x1="449.3" y1="477.3" x2="453.7" y2="477.3" stroke="#ff7f0e" stroke-width="1.4"/>
<line x1="456.9" y1="464" x2="456.9" y2="481.3" stroke="#ff7f0e" stroke-width="1.8"/>
<line x1="454.7" y1="472.4" x2="459.1" y2="472.4" stroke="#ff7f0e" stroke-width="1.4"/>
<line x1="462.2" y1="467.3" x2="462.2" y2="490" stroke="#ff7f0e" stroke-width="1.8"/>
<line x1="460" y1="478.2" x2="464.4" y2="478.2" stroke="#ff7f0e" stroke-width="1.4"/>
<line x1="467.8" y1="470.9" x2="467.8" y2="487.8" stroke="#ff7f0e" stroke-width="1.8"/>
<line x1="465.6" y1="479.1" x2="470" y2="479.1" stroke="#ff7f0e" stroke-width="1.4"/>
<line x1="473.1" y1="455.1" x2="473.1" y2="483.3" stroke="#ff7f0e" stroke-width="1.8"/>
<line x1="470.9" y1="468.7" x2="475.3" y2="468.7" stroke="#ff7f0e" stroke-width="1.4"/>
<line x1="478.5" y1="460.9" x2="478.5" y2="477.8" stroke="#ff7f0e" stroke-width="1.8"/>
<line x1="476.3" y1="468.7" x2="480.7" y2="468.7" stroke="#ff7f0e" stroke-width="1.4"/>
<line x1="484" y1="455.1" x2="484" y2="483.3" stroke="#ff7f0e" stroke-width="1.8"/>
<line x1="481.8" y1="468.7" x2="486.2" y2="468.7" stroke="#ff7f0e" stroke-width="1.4"/>
<line x1="489.5" y1="460.9" x2="489.5" y2="477.8" stroke="#ff7f0e" stroke-width="1.8"/>
<line x1="487.3" y1="468.7" x2="491.7" y2="468.7" stroke="#ff7f0e" stroke-width="1.4"/>
<line x1="494.9" y1="453.3" x2="494.9" y2="474.5" stroke="#ff7f0e" stroke-width="1.8"/>
<line x1="492.7" y1="463.6" x2="497.1" y2="463.6" stroke="#ff7f0e" stroke-width="1.4"/>
<line x1="500.5" y1="435.8" x2="500.5" y2="468.7" stroke="#ff7f0e" stroke-width="1.8"/>
<line x1="498.3" y1="452.2" x2="502.7" y2="452.2" stroke="#ff7f0e" stroke-width="1.4"/>
<line x1="506" y1="452.2" x2="506" y2="471.8" stroke="#ff7f0e" stroke-width="1.8"/>
<line x1="503.8" y1="461.8" x2="508.2" y2="461.8" stroke="#ff7f0e" stroke-width="1.4"/>
<line x1="511.3" y1="456.9" x2="511.3" y2="478.7" stroke="#ff7f0e" stroke-width="1.8"/>
<line x1="509.1" y1="467.6" x2="513.5" y2="467.6" stroke="#ff7f0e" stroke-width="1.4"/>
<line x1="516.7" y1="445.5" x2="516.7" y2="469.1" stroke="#ff7f0e" stroke-width="1.8"/>
<line x1="514.5" y1="457.3" x2="518.9" y2="457.3" stroke="#ff7f0e" stroke-width="1.4"/>
<line x1="522.2" y1="449.1" x2="522.2" y2="470.9" stroke="#ff7f0e" stroke-width="1.8"/>
<line x1="520" y1="459.6" x2="524.4" y2="459.6" stroke="#ff7f0e" stroke-width="1.4"/>
<line x1="527.6" y1="455.5" x2="527.6" y2="476.9" stroke="#ff7f0e" stroke-width="1.8"/>
<line x1="525.4" y1="466" x2="529.8" y2="466" stroke="#ff7f0e" stroke-width="1.4"/>
<line x1="533.1" y1="450.9" x2="533.1" y2="477.6" stroke="#ff7f0e" stroke-width="1.8"/>
<line x1="530.9" y1="464" x2="535.3" y2="464" stroke="#ff7f0e" stroke-width="1.4"/>
<line x1="538.7" y1="440" x2="538.7" y2="468.2" stroke="#ff7f0e" stroke-width="1.8"/>
<line x1="536.5" y1="454" x2="540.9" y2="454" stroke="#ff7f0e" stroke-width="1.4"/>
<line x1="344" y1="498.5" x2="344" y2="517.6" stroke="#2ca02c" stroke-width="1.5"/>
<circle cx="344" cy="508.1" r="3.4" fill="#fff" stroke="#2ca02c" stroke-width="1.4"/>
<line x1="330.6" y1="447.5" x2="334.6" y2="447.5" stroke="#262626" stroke-width="1"/>
<line x1="330.6" y1="500.5" x2="334.6" y2="500.5" stroke="#262626" stroke-width="1"/>
<line x1="344.5" y1="521.8" x2="344.5" y2="525.8" stroke="#262626" stroke-width="1"/>
<line x1="395.5" y1="521.8" x2="395.5" y2="525.8" stroke="#262626" stroke-width="1"/>
<line x1="447.5" y1="521.8" x2="447.5" y2="525.8" stroke="#262626" stroke-width="1"/>
<line x1="499.5" y1="521.8" x2="499.5" y2="525.8" stroke="#262626" stroke-width="1"/>
<g style="filter:grayscale(1)">
<text x="56.2" y="10.2" font-size="12.3" text-anchor="end" textLength="17.33" lengthAdjust="spacingAndGlyphs">0.2</text>
<text x="56.2" y="50.6" font-size="12.3" text-anchor="end" textLength="17.33" lengthAdjust="spacingAndGlyphs">0.1</text>
<text x="56.2" y="91" font-size="12.3" text-anchor="end" textLength="17.33" lengthAdjust="spacingAndGlyphs">0.0</text>
<text x="71.6" y="25.5" font-size="14" text-anchor="start" textLength="51.9" lengthAdjust="spacingAndGlyphs">1/<tspan font-style="italic">β</tspan>=3.2</text>
<text transform="translate(17.2 47.6) rotate(-90)" x="0" y="0" font-size="11.8" text-anchor="middle" textLength="49" lengthAdjust="spacingAndGlyphs">26.6 keV</text>
<text transform="translate(31.7 46.7) rotate(-90)" x="0" y="0" font-size="11.6" text-anchor="middle" textLength="68.5" lengthAdjust="spacingAndGlyphs">/cm<tspan dy="-4" font-size="8.3">2</tspan><tspan dy="4">/s/sr/eV</tspan></text>
<text x="56.2" y="135.7" font-size="12.3" text-anchor="end" textLength="24.26" lengthAdjust="spacingAndGlyphs">0.10</text>
<text x="56.2" y="168.1" font-size="12.3" text-anchor="end" textLength="24.26" lengthAdjust="spacingAndGlyphs">0.05</text>
<text x="56.2" y="200.8" font-size="12.3" text-anchor="end" textLength="24.26" lengthAdjust="spacingAndGlyphs">0.00</text>
<text x="71.6" y="132.8" font-size="14" text-anchor="start" textLength="51.9" lengthAdjust="spacingAndGlyphs">1/<tspan font-style="italic">β</tspan>=2.7</text>
<text transform="translate(9.7 155.75) rotate(-90)" x="0" y="0" font-size="11.8" text-anchor="middle" textLength="48.1" lengthAdjust="spacingAndGlyphs">40.2 keV</text>
<text transform="translate(24.7 154.65) rotate(-90)" x="0" y="0" font-size="11.6" text-anchor="middle" textLength="67.3" lengthAdjust="spacingAndGlyphs">/cm<tspan dy="-4" font-size="8.3">2</tspan><tspan dy="4">/s/sr/eV</tspan></text>
<text x="56.2" y="259" font-size="12.3" text-anchor="end" textLength="17.33" lengthAdjust="spacingAndGlyphs">0.2</text>
<text x="56.2" y="308.9" font-size="12.3" text-anchor="end" textLength="17.33" lengthAdjust="spacingAndGlyphs">0.0</text>
<text x="71.6" y="240.1" font-size="14" text-anchor="start" textLength="51.9" lengthAdjust="spacingAndGlyphs">1/<tspan font-style="italic">β</tspan>=2.1</text>
<text transform="translate(16.9 262.75) rotate(-90)" x="0" y="0" font-size="11.8" text-anchor="middle" textLength="48.1" lengthAdjust="spacingAndGlyphs">66.3 keV</text>
<text transform="translate(31.3 260.1) rotate(-90)" x="0" y="0" font-size="11.6" text-anchor="middle" textLength="92.6" lengthAdjust="spacingAndGlyphs">10<tspan dy="-4" font-size="8.3">−1</tspan><tspan dy="4">/cm</tspan><tspan dy="-4" font-size="8.3">2</tspan><tspan dy="4">/s/sr/eV</tspan></text>
<text x="56.2" y="355.8" font-size="12.3" text-anchor="end" textLength="17.33" lengthAdjust="spacingAndGlyphs">0.4</text>
<text x="56.2" y="385.9" font-size="12.3" text-anchor="end" textLength="17.33" lengthAdjust="spacingAndGlyphs">0.2</text>
<text x="56.2" y="415.8" font-size="12.3" text-anchor="end" textLength="17.33" lengthAdjust="spacingAndGlyphs">0.0</text>
<text x="71.6" y="347.4" font-size="14" text-anchor="start" textLength="51.9" lengthAdjust="spacingAndGlyphs">1/<tspan font-style="italic">β</tspan>=1.8</text>
<text transform="translate(17.2 368.8) rotate(-90)" x="0" y="0" font-size="11.8" text-anchor="middle" textLength="55.2" lengthAdjust="spacingAndGlyphs">108.6 keV</text>
<text transform="translate(31.3 367) rotate(-90)" x="0" y="0" font-size="11.6" text-anchor="middle" textLength="92.6" lengthAdjust="spacingAndGlyphs">10<tspan dy="-4" font-size="8.3">−2</tspan><tspan dy="4">/cm</tspan><tspan dy="-4" font-size="8.3">2</tspan><tspan dy="4">/s/sr/eV</tspan></text>
<text x="56.2" y="465.1" font-size="12.3" text-anchor="end" textLength="24.26" lengthAdjust="spacingAndGlyphs">0.50</text>
<text x="56.2" y="495.7" font-size="12.3" text-anchor="end" textLength="24.26" lengthAdjust="spacingAndGlyphs">0.25</text>
<text x="71.6" y="454.7" font-size="14" text-anchor="start" textLength="51.9" lengthAdjust="spacingAndGlyphs">1/<tspan font-style="italic">β</tspan>=1.5</text>
<text transform="translate(10.1 477.1) rotate(-90)" x="0" y="0" font-size="11.8" text-anchor="middle" textLength="54.4" lengthAdjust="spacingAndGlyphs">182.4 keV</text>
<text transform="translate(25 475.35) rotate(-90)" x="0" y="0" font-size="11.6" text-anchor="middle" textLength="93.5" lengthAdjust="spacingAndGlyphs">10<tspan dy="-4" font-size="8.3">−3</tspan><tspan dy="4">/cm</tspan><tspan dy="-4" font-size="8.3">2</tspan><tspan dy="4">/s/sr/eV</tspan></text>
<text x="64" y="538.9" font-size="12.3" text-anchor="middle" textLength="31.4" lengthAdjust="spacingAndGlyphs">13:30</text>
<text x="117.4" y="538.9" font-size="12.3" text-anchor="middle" textLength="31.4" lengthAdjust="spacingAndGlyphs">14:00</text>
<text x="170.8" y="538.9" font-size="12.3" text-anchor="middle" textLength="31.4" lengthAdjust="spacingAndGlyphs">14:30</text>
<text x="224.2" y="538.9" font-size="12.3" text-anchor="middle" textLength="31.4" lengthAdjust="spacingAndGlyphs">15:00</text>
<text x="277.8" y="538.9" font-size="12.3" text-anchor="middle" textLength="31.4" lengthAdjust="spacingAndGlyphs">15:30</text>
<text x="170.6" y="557.4" font-size="15.3" text-anchor="middle" textLength="88.3" lengthAdjust="spacingAndGlyphs">2001/04/25</text>
<text x="216.2" y="25.1" font-size="13.6" text-anchor="start" textLength="48.7" lengthAdjust="spacingAndGlyphs">original</text>
<text x="216.2" y="44.7" font-size="13.6" text-anchor="start" textLength="46.5" lengthAdjust="spacingAndGlyphs">filtered</text>
<text x="326.4" y="23.4" font-size="12.3" text-anchor="end" textLength="20.8" lengthAdjust="spacingAndGlyphs">800</text>
<text x="326.4" y="49.3" font-size="12.3" text-anchor="end" textLength="20.8" lengthAdjust="spacingAndGlyphs">600</text>
<text x="326.4" y="74.8" font-size="12.3" text-anchor="end" textLength="20.8" lengthAdjust="spacingAndGlyphs">400</text>
<text x="326.4" y="100.2" font-size="12.3" text-anchor="end" textLength="20.8" lengthAdjust="spacingAndGlyphs">200</text>
<text x="326.4" y="125.7" font-size="12.3" text-anchor="end" textLength="6.93" lengthAdjust="spacingAndGlyphs">0</text>
<text x="377.5" y="38" font-size="13.6" text-anchor="start" textLength="44.4" lengthAdjust="spacingAndGlyphs"><tspan font-style="italic">η</tspan> = 0.2</text>
<text x="441.9" y="84.6" font-size="10.5" text-anchor="start" textLength="45.6" lengthAdjust="spacingAndGlyphs"><tspan font-style="italic">χ</tspan><tspan dy="-4.5" font-size="8">2</tspan><tspan dy="4.5">=8.17</tspan></text>
<text x="441.9" y="103.7" font-size="10.5" text-anchor="start" textLength="85.8" lengthAdjust="spacingAndGlyphs">L=1.0±0.03 AU</text>
<text transform="translate(298.9 66.4) rotate(-90)" x="0" y="0" font-size="13.7" text-anchor="middle" textLength="53.8" lengthAdjust="spacingAndGlyphs">seconds</text>
<text x="326.4" y="139.4" font-size="12.3" text-anchor="end" textLength="27.73" lengthAdjust="spacingAndGlyphs">1000</text>
<text x="326.4" y="169.2" font-size="12.3" text-anchor="end" textLength="20.8" lengthAdjust="spacingAndGlyphs">750</text>
<text x="326.4" y="198.7" font-size="12.3" text-anchor="end" textLength="20.8" lengthAdjust="spacingAndGlyphs">500</text>
<text x="326.4" y="227.9" font-size="12.3" text-anchor="end" textLength="20.8" lengthAdjust="spacingAndGlyphs">250</text>
<text x="326.4" y="257.7" font-size="12.3" text-anchor="end" textLength="6.93" lengthAdjust="spacingAndGlyphs">0</text>
<text x="377.5" y="169.8" font-size="13.6" text-anchor="start" textLength="44.4" lengthAdjust="spacingAndGlyphs"><tspan font-style="italic">η</tspan> = 0.4</text>
<text x="441.9" y="216.5" font-size="10.5" text-anchor="start" textLength="53.3" lengthAdjust="spacingAndGlyphs"><tspan font-style="italic">χ</tspan><tspan dy="-4.5" font-size="8">2</tspan><tspan dy="4.5">=10.46</tspan></text>
<text x="441.9" y="235.1" font-size="10.5" text-anchor="start" textLength="93.3" lengthAdjust="spacingAndGlyphs">L=1.08±0.05 AU</text>
<text transform="translate(291.6 198.5) rotate(-90)" x="0" y="0" font-size="13.7" text-anchor="middle" textLength="53.8" lengthAdjust="spacingAndGlyphs">seconds</text>
<text x="326.4" y="280.8" font-size="12.3" text-anchor="end" textLength="27.73" lengthAdjust="spacingAndGlyphs">1000</text>
<text x="326.4" y="307.8" font-size="12.3" text-anchor="end" textLength="20.8" lengthAdjust="spacingAndGlyphs">750</text>
<text x="326.4" y="335" font-size="12.3" text-anchor="end" textLength="20.8" lengthAdjust="spacingAndGlyphs">500</text>
<text x="326.4" y="362.2" font-size="12.3" text-anchor="end" textLength="20.8" lengthAdjust="spacingAndGlyphs">250</text>
<text x="326.4" y="389.7" font-size="12.3" text-anchor="end" textLength="6.93" lengthAdjust="spacingAndGlyphs">0</text>
<text x="377.5" y="302" font-size="13.6" text-anchor="start" textLength="44.4" lengthAdjust="spacingAndGlyphs"><tspan font-style="italic">η</tspan> = 0.6</text>
<text x="441.9" y="348.5" font-size="10.5" text-anchor="start" textLength="45.6" lengthAdjust="spacingAndGlyphs"><tspan font-style="italic">χ</tspan><tspan dy="-4.5" font-size="8">2</tspan><tspan dy="4.5">=9.85</tspan></text>
<text x="441.9" y="367.1" font-size="10.5" text-anchor="start" textLength="93.3" lengthAdjust="spacingAndGlyphs">L=1.18±0.06 AU</text>
<text transform="translate(291.6 330.1) rotate(-90)" x="0" y="0" font-size="13.7" text-anchor="middle" textLength="53.8" lengthAdjust="spacingAndGlyphs">seconds</text>
<text x="346.5" y="409.1" font-size="12.3" text-anchor="middle" textLength="17.2" lengthAdjust="spacingAndGlyphs">1.5</text>
<text x="402.4" y="409.1" font-size="12.3" text-anchor="middle" textLength="17.2" lengthAdjust="spacingAndGlyphs">2.0</text>
<text x="458.3" y="409.1" font-size="12.3" text-anchor="middle" textLength="17.2" lengthAdjust="spacingAndGlyphs">2.5</text>
<text x="514.2" y="409.1" font-size="12.3" text-anchor="middle" textLength="17.2" lengthAdjust="spacingAndGlyphs">3.0</text>
<text x="441.5" y="427.1" font-size="13" text-anchor="middle" textLength="20.6" lengthAdjust="spacingAndGlyphs">1/<tspan font-style="italic">β</tspan></text>
<text x="325.6" y="451.7" font-size="13.6" text-anchor="end" textLength="19.3" lengthAdjust="spacingAndGlyphs">1.2</text>
<text x="325.6" y="504.7" font-size="13.6" text-anchor="end" textLength="19.3" lengthAdjust="spacingAndGlyphs">1.0</text>
<text x="344.1" y="540.6" font-size="13.8" text-anchor="middle" textLength="20.2" lengthAdjust="spacingAndGlyphs">0.0</text>
<text x="395.96" y="540.6" font-size="13.8" text-anchor="middle" textLength="20.2" lengthAdjust="spacingAndGlyphs">0.2</text>
<text x="447.82" y="540.6" font-size="13.8" text-anchor="middle" textLength="20.2" lengthAdjust="spacingAndGlyphs">0.4</text>
<text x="499.68" y="540.6" font-size="13.8" text-anchor="middle" textLength="20.2" lengthAdjust="spacingAndGlyphs">0.6</text>
<text x="441.5" y="557.7" font-size="15" text-anchor="middle"><tspan font-style="italic">η</tspan></text>
<text transform="translate(297.2 476.2) rotate(-90)" x="0" y="0" font-size="15" text-anchor="middle" textLength="68.7" lengthAdjust="spacingAndGlyphs"><tspan font-style="italic">L</tspan>(<tspan font-style="italic">η</tspan>) (AU)</text>
</g>
</svg>
</body></html>
